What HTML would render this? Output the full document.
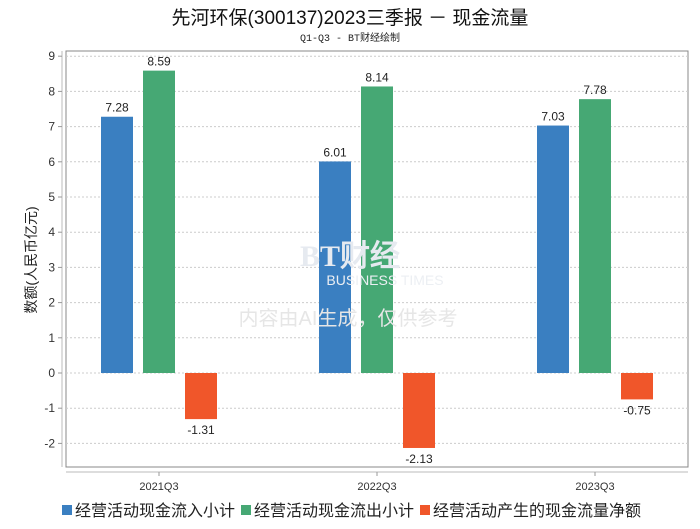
<!DOCTYPE html>
<html><head><meta charset="utf-8"><style>
body{margin:0;background:#fff;width:700px;height:524px;overflow:hidden;font-family:"Liberation Sans","Noto Sans CJK SC",sans-serif}
</style></head><body>
<svg id="chart" width="700" height="524" xmlns="http://www.w3.org/2000/svg">
<text x="350" y="24" text-anchor="middle" font-size="19" fill="#111" font-family="Liberation Sans,Noto Sans CJK SC,sans-serif">先河环保(300137)2023三季报 － 现金流量</text>
<text x="350" y="41" text-anchor="middle" font-size="10" fill="#222" font-family="Liberation Mono,Noto Sans CJK SC,monospace">Q1-Q3 - BT财经绘制</text>
<rect x="66" y="51" width="622" height="416" fill="none" stroke="#888" stroke-width="1"/>
<line x1="62" y1="51" x2="62" y2="467" stroke="#bbb"/>
<line x1="66" y1="472" x2="688" y2="472" stroke="#bbb"/>
<g id="grid"></g><g id="bars"></g>
<text transform="translate(36,260) rotate(-90)" text-anchor="middle" font-size="14" fill="#222">数额(人民币亿元)</text>
<text x="350" y="266" text-anchor="middle" font-size="30" font-family="Liberation Serif,serif" font-weight="bold" fill="#e6eaf0">BT财经</text>
<text x="385" y="285" text-anchor="middle" font-size="14" fill="#eceff3">BUSINESS TIMES</text>
<text x="348" y="325" text-anchor="middle" font-size="20" fill="#e6e6e6">内容由AI生成，仅供参考</text>
<g id="legend"></g>
</svg>
<script>
const categories=["2021Q3","2022Q3","2023Q3"];
const inflow=[7.28,6.01,7.03];
const outflow=[8.59,8.14,7.78];
const net=[-1.31,-2.13,-0.75];
const yTicks=[-2,-1,0,1,2,3,4,5,6,7,8,9];
const seriesNames=["经营活动现金流入小计","经营活动现金流出小计","经营活动产生的现金流量净额"];
const colors=["#3a7fc1","#46a874","#f0562a"];
const NS="http://www.w3.org/2000/svg";
function y(v){return 373-v*35.2;}
function xc(i){return 159+i*218;}
function mk(t,a,p){const e=document.createElementNS(NS,t);for(const k in a)e.setAttribute(k,a[k]);p.appendChild(e);return e;}
const grid=document.getElementById('grid');
yTicks.forEach(t=>{
 const l=mk('line',{x1:66,x2:688,y1:y(t),y2:y(t),stroke:'#ccc','stroke-dasharray':'2,2'},grid);
 
 
 const tk=mk('line',{x1:58,x2:62,y1:y(t),y2:y(t),stroke:'#999'},grid);
 
 
 const tx=mk('text',{x:55,y:y(t)+4,'text-anchor':'end','font-size':12,fill:'#333'},grid);
 tx.textContent=t;
 
 
});
const bars=document.getElementById('bars');
const series=[inflow,outflow,net];
categories.forEach((c,i)=>{
 const tk=mk('line',{x1:xc(i),x2:xc(i),y1:472,y2:476,stroke:'#999'},bars);
 
 
 const lb=mk('text',{x:xc(i),y:490,'text-anchor':'middle','font-size':11,fill:'#333'},bars);
 lb.textContent=c;
 
 
 series.forEach((s,j)=>{
  const v=s[i];const x=xc(i)-58+j*42;
  const top=Math.min(y(v),y(0)),h=Math.abs(y(v)-y(0));
  const r=mk('rect',{x:x,y:top,width:32,height:h,fill:colors[j]},bars);
  
  
  const t=mk('text',{x:x+16,y:v>=0?top-5:top+h+15,'text-anchor':'middle','font-size':12,fill:'#222'},bars);
  t.textContent=v.toFixed(2);
  
  
 });
});
const lg=document.getElementById('legend');
let lx=62;
seriesNames.forEach((n,j)=>{
 const r=mk('rect',{x:lx,y:505,width:10,height:10,fill:colors[j]},lg);
 
 
 const t=mk('text',{x:lx+13,y:516,'font-size':16,fill:'#222'},lg);
 t.textContent=n;
 
 
 lx+=13+n.length*16+6;
});
</script>
</body></html>
